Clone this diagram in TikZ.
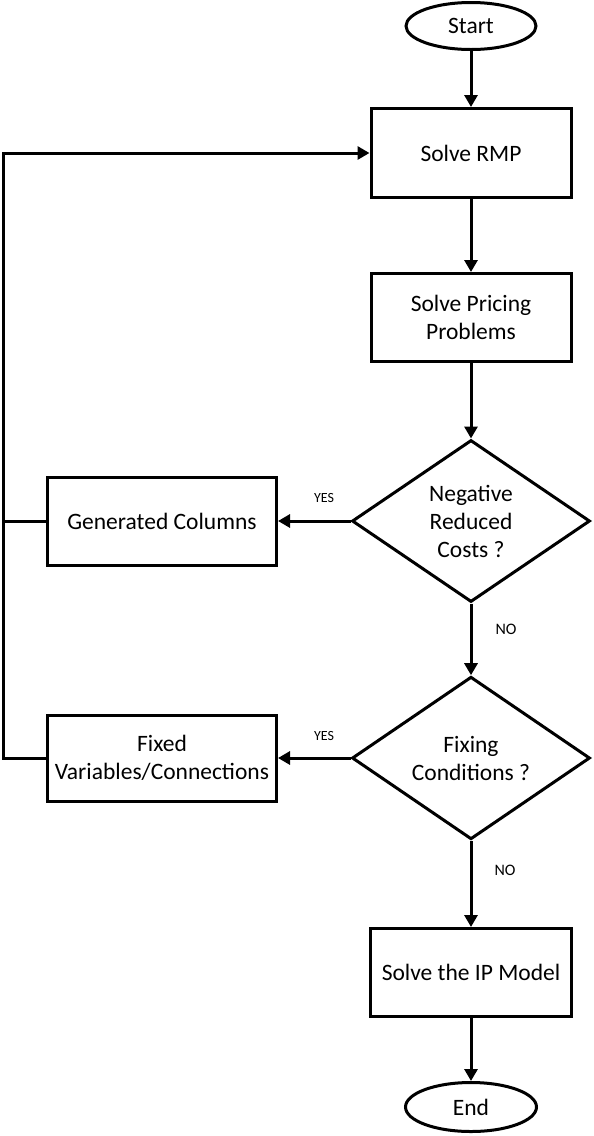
\documentclass[tikz,border=0pt]{standalone}
\usepackage{fontspec}
\setmainfont{Carlito}
\usetikzlibrary{shapes.geometric,arrows.meta}
\begin{document}
\begin{tikzpicture}[x=1pt,y=-1pt,
  line width=3pt,
  base/.style={draw=black, line width=3pt, align=center, inner sep=0pt, font=\fontsize{23.5}{28}\selectfont},
  procbox/.style={base, rectangle},
  term/.style={base, ellipse},
  decision/.style={base, diamond},
  lbl/.style={font=\fontsize{14}{16}\selectfont, inner sep=0pt},
  nolbl/.style={font=\fontsize{16}{18}\selectfont, inner sep=0pt},
  arr/.style={-{Triangle[length=12pt,width=13pt]}, line width=3pt},
  ln/.style={line width=3pt}
]
\useasboundingbox (0,0) rectangle (594,1136);
\node[term, minimum width=130pt, minimum height=47pt] (start) at (471,26) {Start};
\node[procbox, minimum width=200pt, minimum height=89pt] (rmp) at (471,153) {Solve RMP};
\node[procbox, minimum width=200pt, minimum height=88pt] (price) at (471,317.5) {Solve Pricing\\Problems};
\node[decision, minimum width=238pt, minimum height=162pt] (d1) at (471,521) {Negative\\Reduced\\Costs ?};
\node[procbox, minimum width=229pt, minimum height=88pt] (gen) at (162,521) {Generated Columns};
\node[decision, minimum width=238pt, minimum height=155pt] (d2) at (471,758) {Fixing\\Conditions ?};
\node[procbox, minimum width=229pt, minimum height=86pt] (fix) at (162,758) {Fixed\\Variables/Connections};
\node[procbox, minimum width=201pt, minimum height=88pt] (ip) at (471,972.5) {Solve the IP Model};
\node[term, minimum width=131pt, minimum height=49pt] (end) at (471,1107) {End};

\coordinate (lx) at (3,153);

\draw[arr] (start) -- (rmp);
\draw[arr] (rmp) -- (price);
\draw[arr] (price) -- (d1);
\draw[arr] (d1) -- (d2);
\draw[arr] (d2) -- (ip);
\draw[arr] (ip) -- (end);
\draw[arr] (d1.west) -- (gen.east);
\draw[arr] (d2.west) -- (fix.east);
\draw[ln] (gen.west) -- (lx |- gen.west);
\draw[arr] (fix.west) -- (lx |- fix.west) -- (lx) -- (rmp.west);

\node[lbl] (yes1) at (324,498) {YES};
\node[lbl] (yes2) at (324,736) {YES};
\node[nolbl] (no1) at (506,629) {NO};
\node[nolbl] (no2) at (505,870) {NO};
\end{tikzpicture}
\end{document}
